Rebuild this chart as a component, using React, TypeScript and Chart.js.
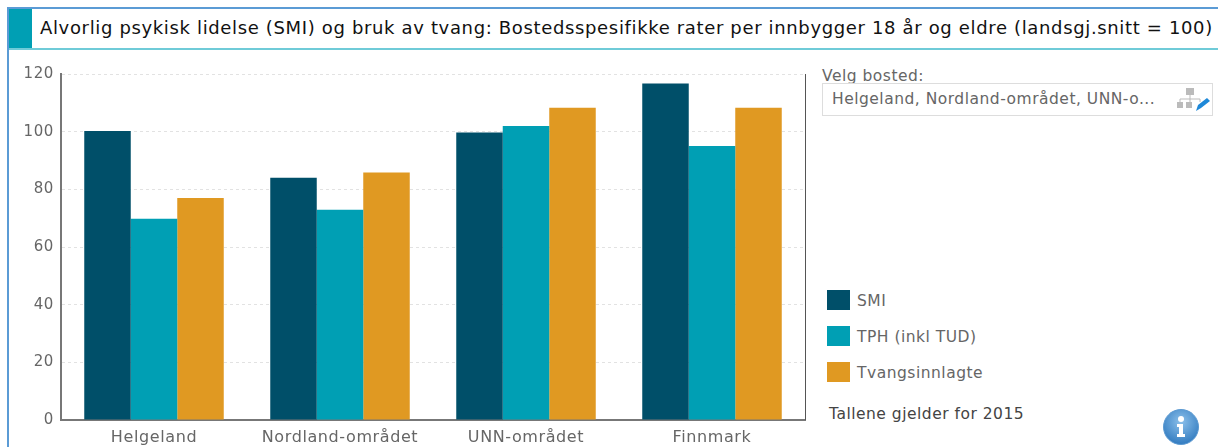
import React, { useEffect, useRef } from "react";
import { Chart, registerables } from "chart.js";

Chart.register(...registerables);

const categories = ["Helgeland", "Nordland-området", "UNN-området", "Finnmark"];
const smi = [100.2, 84, 99.7, 116.7];
const tph = [69.8, 72.9, 102, 95];
const tvang = [77, 85.8, 108.3, 108.3];
const seriesNames = ["SMI", "TPH (inkl TUD)", "Tvangsinnlagte"];
const seriesColors = ["#004f69", "#009fb4", "#e09922"];
const yTicks = [0, 20, 40, 60, 80, 100, 120];
const titleText = "Alvorlig psykisk lidelse (SMI) og bruk av tvang: Bostedsspesifikke rater per innbygger 18 år og eldre (landsgj.snitt = 100)";
const FONT = "'DejaVu Sans', sans-serif";

const abs = (left: number, top: number, extra: React.CSSProperties = {}): React.CSSProperties => ({
  position: "absolute", left, top, whiteSpace: "nowrap", ...extra,
});

export default function App() {
  const ref = useRef<HTMLCanvasElement | null>(null);
  useEffect(() => {
    const chart = new Chart(ref.current!, {
      type: "bar",
      data: {
        labels: categories,
        datasets: [smi, tph, tvang].map((data, i) => ({
          label: seriesNames[i],
          data,
          backgroundColor: seriesColors[i],
          categoryPercentage: 0.75,
          barPercentage: 1,
        })),
      },
      options: {
        responsive: false,
        animation: false,
        layout: { padding: { right: 3 } },
        plugins: { legend: { display: false }, title: { display: false }, tooltip: { enabled: false } },
        scales: {
          x: {
            afterFit: (axis: any) => { axis.height = 28; },
            border: { color: "#777", width: 2 },
            grid: { display: false },
            ticks: { color: "#666", font: { family: FONT, size: 16 }, padding: 0, maxRotation: 0 },
          },
          y: {
            min: 0,
            max: 120,
            afterBuildTicks: (axis: any) => { axis.ticks = yTicks.map((value) => ({ value })); },
            afterFit: (axis: any) => { axis.width = 53; },
            border: { color: "#777", width: 2, dash: [3, 3] },
            grid: { color: "#e2e2e2", drawTicks: false },
            ticks: { color: "#666", font: { family: FONT, size: 15 }, padding: 7 },
          },
        },
      },
      plugins: [{
        id: "rightEdge",
        beforeDraw(c: any) {
          c.ctx.letterSpacing = "0.6px";
        },
        afterDraw(c: any) {
          const { ctx, chartArea: a } = c;
          ctx.save();
          ctx.strokeStyle = "#555";
          ctx.lineWidth = 1;
          ctx.beginPath();
          ctx.moveTo(a.right + 0.5, a.top);
          ctx.lineTo(a.right + 0.5, a.bottom);
          ctx.stroke();
          ctx.restore();
        },
      }],
    } as any);
    return () => chart.destroy();
  }, []);

  const grey = "#666";
  const small: React.CSSProperties = { fontSize: 15.5, letterSpacing: 0.5, color: grey };
  return (
    <div style={{ position: "absolute", left: 0, top: 0, width: 1218, height: 447, overflow: "hidden", background: "#fff", fontFamily: FONT }}>
      <div style={{ position: "absolute", left: 7, top: 7, width: 1211, height: 2, background: "#5b9bd5" }} />
      <div style={{ position: "absolute", left: 7, top: 7, width: 2, height: 440, background: "#5b9bd5" }} />
      <div style={{ position: "absolute", left: 9, top: 9, width: 23, height: 40, background: "#009fb4" }} />
      <div style={{ position: "absolute", left: 9, top: 48, width: 1209, height: 2, background: "#6fcbd8" }} />
      <div style={abs(40, 17, { fontSize: 18, letterSpacing: 0.65, color: "#111" })}>{titleText}</div>

      <canvas ref={ref} width={800} height={390} style={{ position: "absolute", left: 8, top: 58, display: "block" }} />

      <div style={abs(822, 67, small)}>Velg bosted:</div>
      <div style={{ position: "absolute", left: 822, top: 83, width: 391, height: 33, boxSizing: "border-box", border: "1px solid #ddd" }} />
      <div style={abs(832, 90, small)}>Helgeland, Nordland-området, UNN-o...</div>
      <svg style={{ position: "absolute", left: 1175, top: 86 }} width="38" height="28" viewBox="0 0 38 28">
        <rect x="11" y="2" width="8" height="7" fill="#bbb" />
        <path d="M15 9v4M5 13h20M5 13v3M15 13v3M25 13v3" stroke="#bbb" fill="none" />
        <rect x="2" y="16" width="6" height="6" fill="#bbb" />
        <rect x="11" y="16" width="6" height="6" fill="#bbb" />
        <path d="M21 25l2-6 9-7 3 3-9 7z" fill="#1e88d8" />
      </svg>

      {seriesNames.map((name, i) => (
        <React.Fragment key={name}>
          <div style={{ position: "absolute", left: 827, top: 290 + i * 36, width: 23, height: 20, background: seriesColors[i] }} />
          <div style={abs(857, 292 + i * 36, small)}>{name}</div>
        </React.Fragment>
      ))}
      <div style={abs(829, 405, { ...small, color: "#444" })}>Tallene gjelder for 2015</div>

      <svg style={{ position: "absolute", left: 1161, top: 409 }} width="40" height="38" viewBox="0 0 40 38">
        <defs>
          <radialGradient id="g" cx="50%" cy="35%" r="70%">
            <stop offset="0%" stopColor="#8cc0ea" />
            <stop offset="100%" stopColor="#2b76bd" />
          </radialGradient>
        </defs>
        <circle cx="20" cy="18" r="17.5" fill="url(#g)" stroke="#5c9ad2" />
        <circle cx="20" cy="10" r="3" fill="#fff" />
        <path d="M16 15h6v10h2v3h-8v-3h2v-7h-2z" fill="#fff" />
      </svg>
    </div>
  );
}
